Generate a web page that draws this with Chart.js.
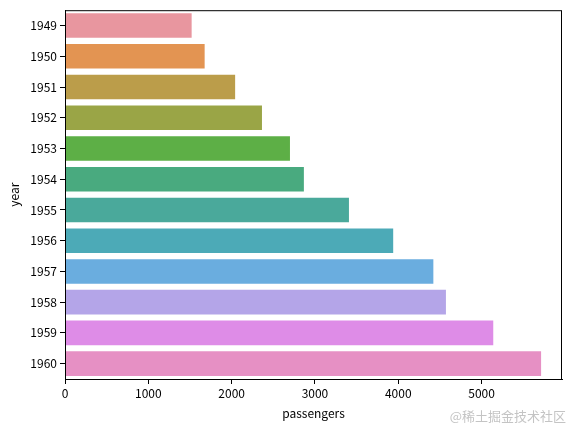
<!DOCTYPE html>
<html>
<head>
<meta charset="utf-8">
<script src="https://cdn.jsdelivr.net/npm/chart.js@4"></script>
<style>
  html, body { margin: 0; padding: 0; background: #fff; }
  #wrap { position: relative; width: 571px; height: 428px; }
  #mark { position: absolute; right: 5px; top: 406px; font: 13px "Noto Sans CJK SC", sans-serif; color: #c4c4c4; }
</style>
</head>
<body>
<div id="wrap">
  <canvas id="c" width="571" height="428"></canvas>
  <div id="mark">@稀土掘金技术社区</div>
</div>
<script>
// passengers per year (flights dataset)
const years = ["1949", "1950", "1951", "1952", "1953", "1954", "1955", "1956", "1957", "1958", "1959", "1960"];
const passengers = [1520, 1676, 2042, 2364, 2700, 2867, 3408, 3939, 4421, 4572, 5140, 5714];
const barColors = [
    "#e8969f", "#e39452", "#bb9d4a", "#9aa546", "#5daf46", "#49aa7f",
    "#4aa99b", "#4caab7", "#6aaddf", "#b4a5e8", "#de8ce7", "#e690c4"
];
const xTicks = [0, 1000, 2000, 3000, 4000, 5000];

const tickFont = { family: "'Noto Sans CJK SC', sans-serif", size: 12 };

// draws the full black frame round the plot area
const frame = {
    id: "frame",
    afterDraw(chart) {
        const a = chart.chartArea;
        const ctx = chart.ctx;
        ctx.save();
        ctx.strokeStyle = "#000";
        ctx.lineWidth = 1;
        ctx.strokeRect(a.left + 0.5, a.top + 0.5, a.right - a.left - 1, a.bottom - a.top);
        ctx.restore();
    }
};

new Chart(document.getElementById("c"), {
    type: "bar",
    data: {
        labels: years,
        datasets: [{
            data: passengers,
            backgroundColor: barColors,
            borderWidth: 0,
            categoryPercentage: 1,
            barPercentage: 0.8
        }]
    },
    options: {
        indexAxis: "y",
        responsive: false,
        animation: false,
        layout: { padding: { left: 0, top: 9, right: 9, bottom: 0 } },
        plugins: { legend: { display: false }, tooltip: { enabled: false } },
        scales: {
            x: {
                min: 0,
                max: 5965,
                afterFit: (s) => { s.height = 49; },
                afterBuildTicks: (s) => { s.ticks = xTicks.map(v => ({ value: v })); },
                ticks: { color: "#000", font: tickFont, padding: 2, maxRotation: 0, callback: (v) => String(v) },
                grid: { drawOnChartArea: false, drawTicks: true, tickLength: 5, color: "#000" },
                border: { display: true, color: "#000" },
                title: { display: true, text: "passengers", color: "#000", font: tickFont, padding: { top: 2, bottom: 7 } }
            },
            y: {
                afterFit: (s) => { s.width = 65; },
                ticks: { color: "#000", font: tickFont, padding: 3 },
                grid: { drawOnChartArea: false, drawTicks: true, tickLength: 5, color: "#000", offset: false },
                border: { display: true, color: "#000" },
                title: { display: true, text: "year", color: "#000", font: tickFont, padding: { top: 7, bottom: 4 } }
            }
        }
    },
    plugins: [frame]
});
</script>
</body>
</html>
